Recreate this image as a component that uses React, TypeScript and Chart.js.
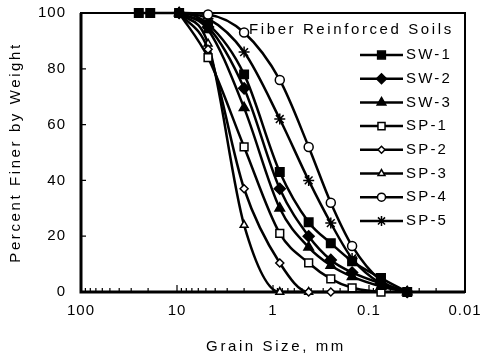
import React, { useEffect, useRef } from 'react';
import { Chart, registerables } from 'chart.js';
import { drawPoint } from 'chart.js/helpers';

Chart.register(...registerables);

// Sieve opening sizes (mm)
const sieveSizes = [25, 19, 9.5, 4.75, 2, 0.85, 0.425, 0.25, 0.15, 0.075, 0.04];

// Percent finer by weight for each soil (null = not measured / not plotted)
const sw1 = [100, 100, 100, 96, 78, 43, 25, 17.5, 11, 5, 0];
const sw2 = [null, null, 100, 95, 73, 37, 20, 11.5, 7, 3, 0];
const sw3 = [null, null, 100, 94, 66, 30, 16, 9.5, 5.5, 2, 0];
const sp1 = [null, null, 100, 84, 52, 21, 10.4, 4.7, 1.5, 0, null];
const sp2 = [null, null, 100, 87, 37, 10.4, 0, 0, null, null, null];
const sp3 = [null, null, 100, 89, 24, 0, 0, null, null, null, null];
const sp4 = [null, null, 100, 99.5, 93, 76, 52, 32, 16.5, 4, 0];
const sp5 = [null, null, 100, 98, 86, 62, 40, 24.7, 12, 3, 0];

const seriesNames = ['SW-1', 'SW-2', 'SW-3', 'SP-1', 'SP-2', 'SP-3', 'SP-4', 'SP-5'];
const seriesValues = [sw1, sw2, sw3, sp1, sp2, sp3, sp4, sp5];

const xTickValues = [100, 10, 1, 0.1, 0.01];
const xTickLabels = ['100', '10', '1', '0.1', '0.01'];
const yTickValues = [0, 20, 40, 60, 80, 100];

const legendTitle = 'Fiber Reinforced Soils';
const xTitle = 'Grain Size, mm';
const yTitle = 'Percent Finer by Weight';

// marker styles per series
const markerStyles = [
  { pointStyle: 'rect', radius: 6, fill: '#000' },
  { pointStyle: 'rectRot', radius: 5.5, fill: '#000' },
  { pointStyle: 'triangle', radius: 5.5, fill: '#000' },
  { pointStyle: 'rect', radius: 5.5, fill: '#fff' },
  { pointStyle: 'rectRot', radius: 4, fill: '#fff' },
  { pointStyle: 'triangle', radius: 4.5, fill: '#fff' },
  { pointStyle: 'circle', radius: 4.5, fill: '#fff' },
  { pointStyle: 'star', radius: 5.5, fill: '#fff' },
];

const FONT = '"Liberation Sans", Arial, Helvetica, sans-serif';

const framePlugin = {
  id: 'frameTicks',
  beforeDraw(chart: any) {
    chart.ctx.letterSpacing = '1px';
  },
  beforeDatasetsDraw(chart: any) {
    const { ctx, chartArea: a, scales } = chart;
    ctx.save();
    ctx.letterSpacing = '0px';
    ctx.strokeStyle = '#000';
    ctx.lineWidth = 2;
    ctx.strokeRect(a.left, a.top, a.right - a.left, a.bottom - a.top);
    ctx.lineWidth = 3;
    ctx.beginPath();
    ctx.moveTo(a.left, a.top);
    ctx.lineTo(a.left, a.bottom);
    ctx.lineTo(a.right, a.bottom);
    ctx.stroke();
    ctx.lineWidth = 1.2;
    ctx.beginPath();
    yTickValues.forEach((v) => {
      const py = scales.y.getPixelForValue(v);
      ctx.moveTo(a.left, py);
      ctx.lineTo(a.left + 5, py);
    });
    for (let k = -2; k <= 1; k++) {
      for (let d = 1; d <= 9; d++) {
        const v = d * Math.pow(10, k);
        const px = scales.x.getPixelForValue(v);
        const len = d === 1 ? 7 : 4;
        ctx.moveTo(px, a.bottom);
        ctx.lineTo(px, a.bottom - len);
      }
    }
    ctx.stroke();
    ctx.restore();
  },
  afterDatasetsDraw(chart: any) {
    const { ctx, chartArea: a } = chart;
    ctx.save();
    ctx.fillStyle = '#000';
    ctx.font = `15px ${FONT}`;
    ctx.letterSpacing = '2.6px';
    ctx.textBaseline = 'middle';
    ctx.textAlign = 'left';
    ctx.fillText(legendTitle, a.left + 168, a.top + 17);
    ctx.letterSpacing = '2.2px';
    chart.data.datasets.forEach((ds: any, i: number) => {
      const y = a.top + 42 + i * 23.7;
      const x0 = a.left + 279;
      const x1 = x0 + 43;
      ctx.strokeStyle = '#000';
      ctx.lineWidth = 2.5;
      ctx.beginPath();
      ctx.moveTo(x0, y);
      ctx.lineTo(x1, y);
      ctx.stroke();
      const m = markerStyles[i];
      ctx.fillStyle = m.fill;
      ctx.lineWidth = 1.5;
      drawPoint(ctx, { pointStyle: m.pointStyle, radius: m.radius - 0.5, rotation: 0, borderWidth: 1.5 } as any, (x0 + x1) / 2, y);
      ctx.fillStyle = '#000';
      ctx.fillText(ds.label, x1 + 3, y);
    });
    ctx.restore();
  },
  afterDraw(chart: any) {
    const { ctx, chartArea: a } = chart;
    ctx.save();
    ctx.fillStyle = '#000';
    ctx.font = `15px ${FONT}`;
    ctx.textBaseline = 'middle';
    ctx.textAlign = 'center';
    ctx.letterSpacing = '2.6px';
    ctx.fillText(xTitle, (a.left + a.right) / 2 + 3, 347);
    ctx.translate(16, (a.top + a.bottom) / 2);
    ctx.rotate(-Math.PI / 2);
    ctx.fillText(yTitle, 0, 0);
    ctx.restore();
    ctx.letterSpacing = '0px';
  },
};

export default function App() {
  const canvasRef = useRef<HTMLCanvasElement | null>(null);

  useEffect(() => {
    if (!canvasRef.current) return;
    const datasets = seriesNames.map((name, i) => {
      const vals = seriesValues[i];
      const data: { x: number; y: number }[] = [];
      sieveSizes.forEach((s, j) => {
        if (vals[j] !== null && vals[j] !== undefined) data.push({ x: s, y: vals[j] as number });
      });
      const m = markerStyles[i];
      return {
        label: name,
        data,
        borderColor: '#000',
        borderWidth: 2.5,
        pointStyle: m.pointStyle,
        pointRadius: m.radius,
        pointBackgroundColor: m.fill,
        pointBorderColor: '#000',
        pointBorderWidth: 1.5,
        cubicInterpolationMode: 'monotone',
        clip: false,
        fill: false,
      };
    });

    const chart = new Chart(canvasRef.current, {
      type: 'line',
      data: { datasets: datasets as any },
      options: {
        animation: false,
        responsive: true,
        maintainAspectRatio: false,
        layout: { padding: { top: 13, right: 17, bottom: 0, left: 0 } },
        plugins: { legend: { display: false }, tooltip: { enabled: false } },
        scales: {
          x: {
            type: 'logarithmic',
            reverse: true,
            min: 0.01,
            max: 100,
            grid: { display: false, drawTicks: false },
            border: { display: false },
            afterBuildTicks: (scale: any) => {
              scale.ticks = xTickValues.map((v) => ({ value: v }));
            },
            afterFit: (scale: any) => {
              scale.height = 66;
              scale.paddingLeft = 0;
              scale.paddingRight = 0;
            },
            ticks: {
              autoSkip: false,
              maxRotation: 0,
              minRotation: 0,
              padding: 10,
              color: '#000',
              font: { size: 15, family: FONT },
              callback: (v: any) => {
                const idx = xTickValues.findIndex((t) => Math.abs(t - Number(v)) < 1e-9);
                return idx >= 0 ? xTickLabels[idx] : '';
              },
            },
          },
          y: {
            min: 0,
            max: 100,
            grid: { display: false, drawTicks: false },
            border: { display: false },
            afterFit: (scale: any) => {
              scale.width = 81;
              scale.paddingTop = 0;
              scale.paddingBottom = 0;
            },
            ticks: {
              stepSize: 20,
              padding: 15,
              color: '#000',
              font: { size: 15, family: FONT },
            },
          },
        },
      } as any,
      plugins: [framePlugin],
    });
    return () => chart.destroy();
  }, []);

  return (
    <div style={{ position: 'fixed', left: 0, top: 0, width: 482, height: 358, background: '#fff' }}>
      <canvas ref={canvasRef} />
    </div>
  );
}
